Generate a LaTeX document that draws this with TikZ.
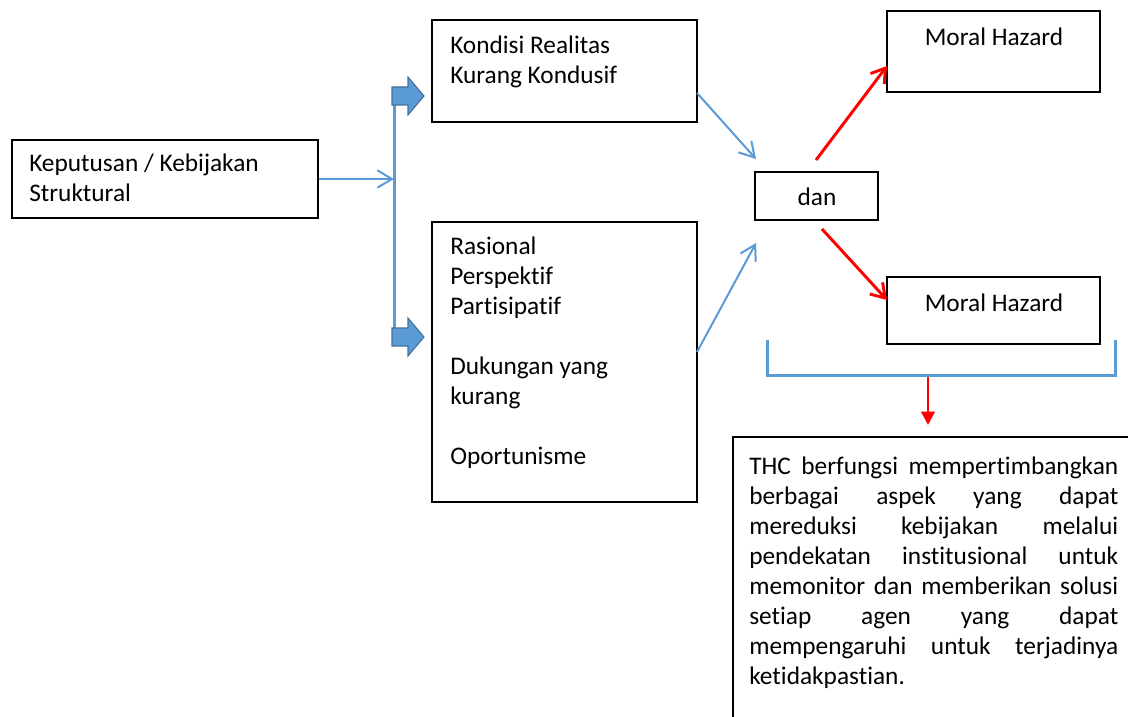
\documentclass[tikz,border=0pt]{standalone}
\usepackage{fontspec}
\setmainfont{Carlito}[Ligatures=NoCommon]
\usetikzlibrary{arrows.meta, fit}
\definecolor{arrowblue}{HTML}{5B9BD5}
\definecolor{arrowedge}{HTML}{41719C}

\begin{document}
\begin{tikzpicture}[x=0.75pt, y=-0.75pt,
        box/.style={draw, line width=1.2pt, inner sep=0pt},
        txt/.style={anchor=north west, inner sep=0pt, align=left,
            font=\fontsize{19}{22.5}\selectfont,
            execute at begin node={\rule{0pt}{16pt}}},
        lbl/.style={anchor=base, inner sep=0pt, font=\fontsize{19}{22.5}\selectfont},
        bluearrow/.style={draw=arrowblue, line width=1.5pt,
            -{Straight Barb[length=11pt,width=13pt]}},
        redarrow/.style={draw=red, line width=2.2pt,
            -{Straight Barb[length=10pt,width=13pt]}}]
        \useasboundingbox (0,0) rectangle (1128,717);

        % Draw the boxes
        \node[box, fit={(12,140) (318,218)}] (kep) {};
        \node[box, fit={(432,20) (697,122)}] (kondisi) {};
        \node[box, fit={(432,222) (697,502)}] (rasional) {};
        \node[box, fit={(755,172) (878,220)}] (dan) {};
        \node[box, fit={(887,11) (1100,92)}] (hazardTop) {};
        \node[box, fit={(887,277) (1100,344)}] (hazardBot) {};
        \node[box, fit={(733,437) (1140,730)}] (thc) {};

        % Texts of the boxes
        \node[txt] (kepText) at (29,154) {Keputusan / Kebijakan\\Struktural};
        \node[txt] (kondisiText) at (450,36) {Kondisi Realitas\\Kurang Kondusif};
        \node[txt] (rasionalText) at (450,237) {Rasional\\Perspektif\\Partisipatif\\[22.5pt]Dukungan yang\\kurang\\[22.5pt]Oportunisme};
        \node[lbl] (danText) at (817,205) {dan};
        \node[lbl] (hazardTopText) at (994,46) {Moral Hazard};
        \node[lbl] (hazardBotText) at (994,311) {Moral Hazard};
        \node[txt, text width=276.75pt, align=justify] (thcText) at (749,453) {THC berfungsi mempertimbangkan\linebreak berbagai aspek yang dapat\linebreak mereduksi kebijakan melalui\linebreak pendekatan institusional untuk\linebreak memonitor dan memberikan solusi\linebreak setiap agen yang dapat\linebreak mempengaruhi untuk terjadinya\linebreak ketidakpastian.};

        % Split of the decision
        \coordinate (busTop) at (394,87);
        \coordinate (busBot) at (394,346);
        \coordinate (split) at (kep.east -| busTop);
        \draw[bluearrow] (kep.east) -- (split);
        \draw[arrowblue, line width=2.25pt] (busTop) -- (busBot);
        \foreach \y in {96,337} {
            \filldraw[fill=arrowblue, draw=arrowedge, line width=0.8pt]
                (392,\y-9) -- (408,\y-9) -- (408,\y-19) -- (424,\y)
                -- (408,\y+19) -- (408,\y+9) -- (392,\y+9) -- cycle;
        }

        % Arrows into and out of dan
        \coordinate (kondisiOut) at (697,93);
        \coordinate (danInA) at (756,159);
        \coordinate (rasionalOut) at (697,352);
        \coordinate (danInB) at (756,243);
        \coordinate (danOutA) at (816,160);
        \coordinate (hazardInA) at (887,66);
        \coordinate (danOutB) at (822,229);
        \coordinate (hazardInB) at (887,300);
        \draw[bluearrow] (kondisiOut) -- (danInA);
        \draw[bluearrow] (rasionalOut) -- (danInB);
        \draw[redarrow] (danOutA) -- (hazardInA);
        \draw[redarrow] (danOutB) -- (hazardInB);

        % Bracket and arrow to THC
        \draw[arrowblue, line width=2.25pt] (767,340) -- (767,375) -- (1115,375) -- (1115,340);
        \coordinate (bracketMid) at (928,377);
        \coordinate (thcIn) at (928,425);
        \draw[red, line width=2.2pt, -{Triangle[length=10pt,width=10pt]}] (bracketMid) -- (thcIn);
    \end{tikzpicture}
\end{document}
